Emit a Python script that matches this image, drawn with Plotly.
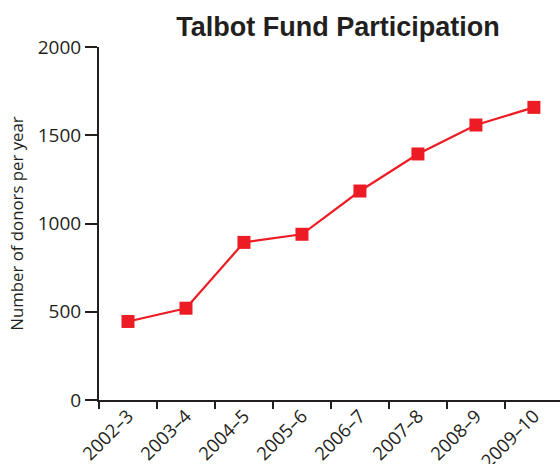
import plotly.graph_objects as go

seasons = ["2002–3", "2003–4", "2004–5", "2005–6", "2006–7", "2007–8", "2008–9", "2009–10"]
donors = [445, 520, 893, 939, 1184, 1394, 1558, 1658]
y_ticks = [0, 500, 1000, 1500, 2000]

INK = "#231f20"
RED = "#ed1c24"

fig = go.Figure(
    go.Scatter(
        x=seasons,
        y=donors,
        mode="lines+markers",
        line=dict(color=RED, width=2.2),
        marker=dict(symbol="square", size=13, color=RED),
        cliponaxis=False,
    )
)

fig.update_layout(
    width=560,
    height=464,
    margin=dict(l=99, r=0, t=47, b=64, autoexpand=False),
    paper_bgcolor="white",
    plot_bgcolor="white",
    showlegend=False,
    font=dict(family="Open Sans", color=INK, size=19),
    title=dict(
        text="<b>Talbot Fund Participation</b>",
        font=dict(family="Liberation Sans", size=27, color=INK),
        x=338 / 560,
        xanchor="center",
        xref="container",
        y=1 - 27 / 464,
        yanchor="middle",
        automargin=False,
    ),
)

fig.update_xaxes(
    type="category",
    range=[-0.5, 7.45],
    automargin=False,
    showline=True,
    linecolor=INK,
    linewidth=2,
    ticks="outside",
    tickson="boundaries",
    ticklen=7,
    tickwidth=2,
    tickcolor=INK,
    tickangle=-45,
    ticklabelstandoff=-4,
    showgrid=False,
    zeroline=False,
    tickfont=dict(size=18.5),
)

fig.update_yaxes(
    range=[0, 2000],
    tickvals=y_ticks,
    automargin=False,
    showline=True,
    linecolor=INK,
    linewidth=2,
    ticks="outside",
    ticklen=12,
    tickwidth=2,
    tickcolor=INK,
    showgrid=False,
    zeroline=False,
    tickfont=dict(size=19),
    title=dict(text="Number of donors per year", font=dict(size=16.8), standoff=10),
)

fig.write_html(
    "out.html",
    config={"displayModeBar": False},
    post_script="document.body.style.margin='0';document.body.style.padding='0';",
)
